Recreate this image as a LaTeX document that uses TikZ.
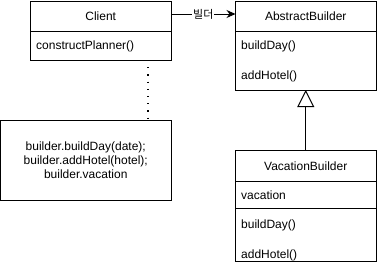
\documentclass[tikz,border=0pt]{standalone}
\usepackage{fontspec}
\setmainfont{Liberation Sans}
\newfontfamily\kofont{Noto Sans CJK KR}
\usetikzlibrary{arrows.meta}
\begin{document}
\begin{tikzpicture}[x=1pt,y=-1pt,
  box/.style={draw=black,line width=1pt,fill=white},
  lbl/.style={font=\fontsize{12}{14}\selectfont,inner sep=0pt},
]
\useasboundingbox[fill=white] (0,0) rectangle (377,271);
% Client
\draw[box] (30.5,1) rectangle (171,60);
\draw[line width=1pt] (30.5,31) -- (171,31);
\node[lbl] (client) at (100.75,16) {Client};
\node[lbl,anchor=west] (cp) at (36,46) {constructPlanner()};
\coordinate (cr) at (171,14);
\coordinate (cb) at (148,60);
% AbstractBuilder
\draw[box] (235.5,1) rectangle (376,90);
\draw[line width=1pt] (235.5,31) -- (376,31);
\node[lbl] (ab) at (305.75,16) {AbstractBuilder};
\node[lbl,anchor=west] (abd) at (241,46) {buildDay()};
\node[lbl,anchor=west] (abh) at (241,76) {addHotel()};
\coordinate (al) at (235.5,14);
\coordinate (abot) at (305.75,90);
% Note
\draw[box] (0.5,120) rectangle (171,200);
\node[lbl,align=center] (note) at (85.75,160) {builder.buildDay(date);\\builder.addHotel(hotel);\\builder.vacation};
\coordinate (nt) at (148,120);
% VacationBuilder
\draw[box] (235.5,150.5) rectangle (376,261);
\draw[line width=1pt] (235.5,181) -- (376,181);
\draw[line width=1pt] (235.5,208.5) -- (376,208.5);
\node[lbl] (vb) at (305.75,166) {VacationBuilder};
\node[lbl,anchor=west] (vv) at (241,195) {vacation};
\node[lbl,anchor=west] (vbd) at (241,225) {buildDay()};
\node[lbl,anchor=west] (vbh) at (241,255) {addHotel()};
\coordinate (vtop) at (305.75,150.5);
% connectors
\draw[line width=1pt,-{Stealth[length=9pt,width=8pt]}] (cr) -- node[fill=white,inner sep=1pt,font=\kofont\fontsize{11}{13}\selectfont]{빌더} (al);
\draw[line width=1.2pt,dotted,dash pattern=on 1.2pt off 6pt] (cb) -- (nt);
\draw[line width=1pt,-{Triangle[open,length=17pt,width=17pt,fill=white]}] (vtop) -- (abot);
\end{tikzpicture}
\end{document}
